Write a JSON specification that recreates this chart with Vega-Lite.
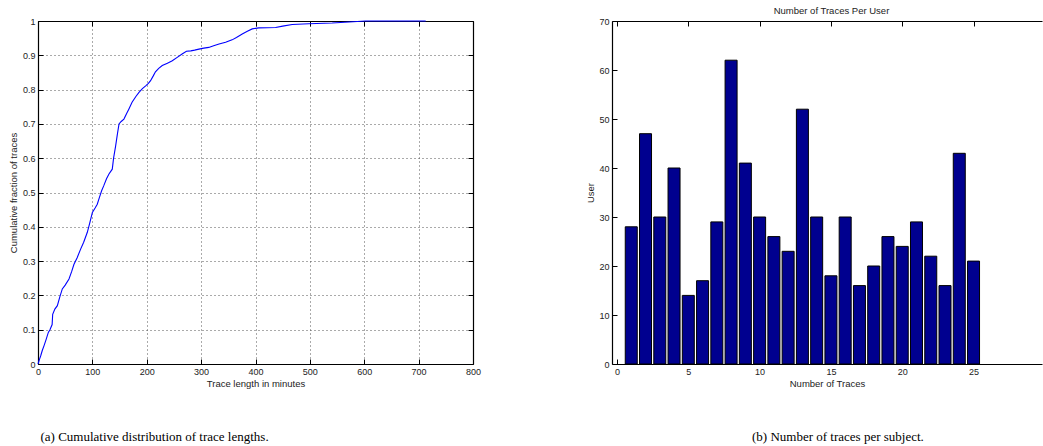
{
  "$schema": "https://vega.github.io/schema/vega-lite/v6.json",
  "background": "white",
  "padding": {"left": 8, "top": 5, "right": 0, "bottom": 0},
  "bounds": "flush",
  "spacing": 139,
  "config": {
    "view": {"stroke": null},
    "font": "Liberation Sans",
    "axis": {
      "labelFont": "Liberation Sans",
      "labelFontSize": 9,
      "labelColor": "#222",
      "titleFont": "Liberation Sans",
      "titleFontSize": 9.5,
      "titleFontWeight": "normal",
      "titleColor": "#222",
      "domainColor": "#000",
      "domainWidth": 1.2,
      "tickColor": "#000",
      "tickSize": -5,
      "labelPadding": 8,
      "grid": false
    }
  },
  "hconcat": [
    {
      "width": 435,
      "height": 343,
      "title": {
        "text": "(a) Cumulative distribution of trace lengths.",
        "orient": "bottom",
        "anchor": "start",
        "font": "Liberation Serif",
        "fontSize": 13,
        "fontWeight": "normal",
        "color": "#000",
        "offset": 43,
        "dx": 32
      },
      "data": {
        "values": [
          {"minutes": 0, "fraction": 0}, {"minutes": 3, "fraction": 0.015}, {"minutes": 5, "fraction": 0.024},
          {"minutes": 8, "fraction": 0.04}, {"minutes": 11, "fraction": 0.053}, {"minutes": 15, "fraction": 0.072},
          {"minutes": 19, "fraction": 0.092}, {"minutes": 22, "fraction": 0.1}, {"minutes": 26, "fraction": 0.115},
          {"minutes": 27, "fraction": 0.145}, {"minutes": 31, "fraction": 0.16}, {"minutes": 35.6, "fraction": 0.17},
          {"minutes": 40, "fraction": 0.195}, {"minutes": 44.7, "fraction": 0.219}, {"minutes": 50, "fraction": 0.23},
          {"minutes": 57, "fraction": 0.248}, {"minutes": 62, "fraction": 0.27}, {"minutes": 66, "fraction": 0.29},
          {"minutes": 72, "fraction": 0.31}, {"minutes": 78.4, "fraction": 0.335}, {"minutes": 84, "fraction": 0.355},
          {"minutes": 90.7, "fraction": 0.384}, {"minutes": 95, "fraction": 0.41}, {"minutes": 100, "fraction": 0.442},
          {"minutes": 105, "fraction": 0.455}, {"minutes": 109, "fraction": 0.466}, {"minutes": 113, "fraction": 0.486},
          {"minutes": 117, "fraction": 0.505}, {"minutes": 121, "fraction": 0.52}, {"minutes": 126, "fraction": 0.54},
          {"minutes": 130.5, "fraction": 0.554}, {"minutes": 136.6, "fraction": 0.568}, {"minutes": 139, "fraction": 0.6},
          {"minutes": 142.8, "fraction": 0.636}, {"minutes": 146, "fraction": 0.67}, {"minutes": 149, "fraction": 0.7},
          {"minutes": 153, "fraction": 0.707}, {"minutes": 158, "fraction": 0.714}, {"minutes": 163, "fraction": 0.73},
          {"minutes": 167, "fraction": 0.743}, {"minutes": 173, "fraction": 0.763}, {"minutes": 180, "fraction": 0.78},
          {"minutes": 185.7, "fraction": 0.792}, {"minutes": 192, "fraction": 0.803}, {"minutes": 198, "fraction": 0.811},
          {"minutes": 203, "fraction": 0.818}, {"minutes": 207, "fraction": 0.826}, {"minutes": 212, "fraction": 0.84},
          {"minutes": 216, "fraction": 0.852}, {"minutes": 222, "fraction": 0.862}, {"minutes": 228.5, "fraction": 0.87},
          {"minutes": 238, "fraction": 0.877}, {"minutes": 247, "fraction": 0.884}, {"minutes": 256, "fraction": 0.894},
          {"minutes": 265, "fraction": 0.904}, {"minutes": 273, "fraction": 0.912}, {"minutes": 281, "fraction": 0.913},
          {"minutes": 288, "fraction": 0.915}, {"minutes": 296, "fraction": 0.918}, {"minutes": 305, "fraction": 0.921},
          {"minutes": 314, "fraction": 0.923}, {"minutes": 323, "fraction": 0.928}, {"minutes": 333, "fraction": 0.933},
          {"minutes": 345, "fraction": 0.938}, {"minutes": 357, "fraction": 0.945}, {"minutes": 365, "fraction": 0.952},
          {"minutes": 375.6, "fraction": 0.962}, {"minutes": 385, "fraction": 0.97}, {"minutes": 394, "fraction": 0.977},
          {"minutes": 406, "fraction": 0.98}, {"minutes": 437, "fraction": 0.981}, {"minutes": 450, "fraction": 0.985},
          {"minutes": 467.5, "fraction": 0.99}, {"minutes": 498, "fraction": 0.992}, {"minutes": 541, "fraction": 0.994},
          {"minutes": 572, "fraction": 0.997}, {"minutes": 602, "fraction": 1.0}, {"minutes": 713, "fraction": 1.0}
        ]
      },
      "layer": [
        {
          "mark": {"type": "line", "opacity": 0},
          "encoding": {
            "x": {
              "field": "minutes", "type": "quantitative",
              "scale": {"domain": [0, 800], "nice": false, "zero": false},
              "axis": {"orient": "top", "title": null, "labels": false,
                       "values": [0, 100, 200, 300, 400, 500, 600, 700, 800]}
            },
            "y": {
              "field": "fraction", "type": "quantitative",
              "scale": {"domain": [0, 1], "nice": false},
              "axis": {"orient": "right", "title": null, "labels": false,
                       "values": [0, 0.1, 0.2, 0.3, 0.4, 0.5, 0.6, 0.7, 0.8, 0.9, 1]}
            }
          }
        },
        {
          "mark": {"type": "line", "color": "#0000ff", "strokeWidth": 1.1},
          "encoding": {
            "x": {
              "field": "minutes", "type": "quantitative",
              "axis": {
                "orient": "bottom", "title": "Trace length in minutes",
                "values": [0, 100, 200, 300, 400, 500, 600, 700, 800],
                "grid": true, "gridColor": "#555", "gridDash": [1, 3], "gridWidth": 1,
                "labelFlush": false, "titlePadding": 2
              }
            },
            "y": {
              "field": "fraction", "type": "quantitative",
              "axis": {
                "orient": "left", "title": "Cumulative fraction of traces",
                "values": [0, 0.1, 0.2, 0.3, 0.4, 0.5, 0.6, 0.7, 0.8, 0.9, 1],
                "format": ".1~f",
                "grid": true, "gridColor": "#555", "gridDash": [1, 3], "gridWidth": 1,
                "labelFlush": false, "titlePadding": 4
              }
            }
          }
        }
      ],
      "resolve": {"axis": {"x": "independent", "y": "independent"}}
    },
    {
      "width": 430,
      "height": 343,
      "title": {
        "text": "(b) Number of traces per subject.",
        "orient": "bottom",
        "anchor": "start",
        "font": "Liberation Serif",
        "fontSize": 13,
        "fontWeight": "normal",
        "color": "#000",
        "offset": 43,
        "dx": 166
      },
      "data": {
        "values": [
          {"traces": 1, "users": 28}, {"traces": 2, "users": 47}, {"traces": 3, "users": 30},
          {"traces": 4, "users": 40}, {"traces": 5, "users": 14}, {"traces": 6, "users": 17},
          {"traces": 7, "users": 29}, {"traces": 8, "users": 62}, {"traces": 9, "users": 41},
          {"traces": 10, "users": 30}, {"traces": 11, "users": 26}, {"traces": 12, "users": 23},
          {"traces": 13, "users": 52}, {"traces": 14, "users": 30}, {"traces": 15, "users": 18},
          {"traces": 16, "users": 30}, {"traces": 17, "users": 16}, {"traces": 18, "users": 20},
          {"traces": 19, "users": 26}, {"traces": 20, "users": 24}, {"traces": 21, "users": 29},
          {"traces": 22, "users": 22}, {"traces": 23, "users": 16}, {"traces": 24, "users": 43},
          {"traces": 25, "users": 21}
        ]
      },
      "layer": [
        {
          "mark": {"type": "bar", "width": 12, "color": "#00008f", "stroke": "#000", "strokeWidth": 1},
          "encoding": {
            "x": {
              "field": "traces", "type": "quantitative",
              "scale": {"domain": [0, 29.45], "nice": false, "zero": false},
              "axis": {
                "orient": "bottom", "title": "Number of Traces",
                "values": [0, 5, 10, 15, 20, 25],
                "labelFlush": false, "titlePadding": 2
              }
            },
            "y": {
              "field": "users", "type": "quantitative",
              "scale": {"domain": [0, 70], "nice": false},
              "axis": {
                "orient": "left", "title": "User",
                "values": [0, 10, 20, 30, 40, 50, 60, 70],
                "labelFlush": false, "titlePadding": 3
              }
            }
          }
        },
        {
          "mark": {"type": "bar", "opacity": 0, "width": 1},
          "encoding": {
            "x": {
              "field": "traces", "type": "quantitative",
              "axis": {"orient": "top", "labels": false,
                       "values": [0, 5, 10, 15, 20, 25],
                       "title": "Number of Traces Per User",
                       "titleX": 219, "titleY": -11, "titleAlign": "center", "titleBaseline": "middle",
                       "titleAnchor": null}
            }
          }
        }
      ],
      "resolve": {"axis": {"x": "independent", "y": "independent"}}
    }
  ]
}
